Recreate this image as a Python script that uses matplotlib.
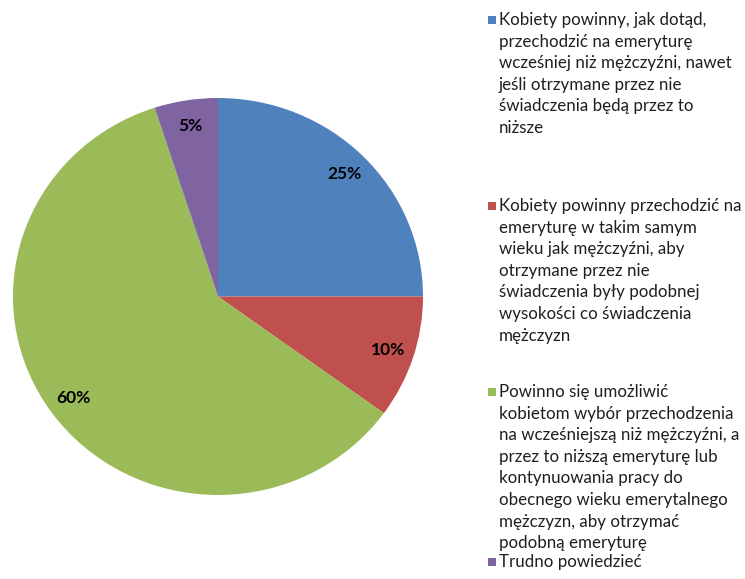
import matplotlib
matplotlib.use("Agg")
import matplotlib.pyplot as plt
from matplotlib.patches import Rectangle

plt.rcParams['font.family'] = ['Lato', 'DejaVu Sans']

# survey answers, in legend order
labels = [
    "Kobiety powinny, jak dotąd,\nprzechodzić na emeryturę\nwcześniej niż mężczyźni, nawet\njeśli otrzymane przez nie\nświadczenia będą przez to\nniższe",
    "Kobiety powinny przechodzić na\nemeryturę w takim samym\nwieku jak mężczyźni, aby\notrzymane przez nie\nświadczenia były podobnej\nwysokości co świadczenia\nmężczyzn",
    "Powinno się umożliwić\nkobietom wybór przechodzenia\nna wcześniejszą niż mężczyźni, a\nprzez to niższą emeryturę lub\nkontynuowania pracy do\nobecnego wieku emerytalnego\nmężczyzn, aby otrzymać\npodobną emeryturę",
    "Trudno powiedzieć",
]
shares = [25, 10, 60, 5]
colors = ['#4F81BD', '#C0504D', '#9BBB59', '#8064A2']

fig = plt.figure(figsize=(7.45, 5.79), dpi=100)
ax = fig.add_axes([13 / 745, 84 / 579, 410 / 745, 397 / 579])

wedges, texts, autotexts = ax.pie(
    shares, colors=colors, startangle=90, counterclock=False,
    autopct='%d%%', pctdistance=0.87, radius=1.0,
    wedgeprops=dict(linewidth=0),
    textprops=dict(fontsize=12.5, fontweight='bold', color='black'),
)
ax.set_aspect('auto')
ax.set_xlim(-1, 1)
ax.set_ylim(-1, 1)
ax.axis('off')

# legend drawn by hand, one line of text at a time
W, H = 745, 579
entry_top = [20, 206, 392, 562]
line_step = 21.6
for lab, col, y0 in zip(labels, colors, entry_top):
    fig.patches.append(Rectangle((488 / W, 1 - (y0 + 4) / H), 8 / W, 8 / H,
                                 transform=fig.transFigure, facecolor=col,
                                 edgecolor='none'))
    for i, line in enumerate(lab.split('\n')):
        fig.text(499 / W, 1 - (y0 + i * line_step) / H, line,
                 fontsize=12.2, color='#1f1f1f', va='center', ha='left')

fig.savefig('out.png', dpi=100)
